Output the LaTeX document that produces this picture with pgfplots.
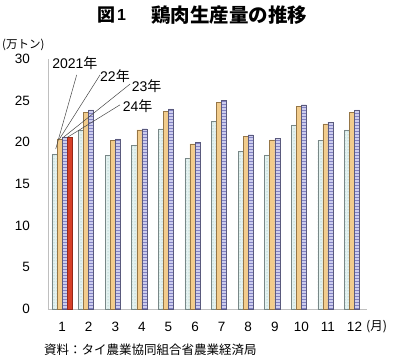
\documentclass[border=0pt]{standalone}
\usepackage{fontspec}
\setmainfont{Liberation Sans}
\newfontfamily\jp{Noto Sans CJK JP}
\usepackage{pgfplots}
\pgfplotsset{compat=1.18}
\usetikzlibrary{patterns}
\definecolor{f21}{RGB}{228,242,240}
\definecolor{p21}{RGB}{140,185,180}
\definecolor{d21}{RGB}{120,135,135}
\definecolor{f22}{RGB}{242,204,140}
\definecolor{d22}{RGB}{150,118,70}
\definecolor{f23}{RGB}{205,205,238}
\definecolor{p23}{RGB}{130,130,195}
\definecolor{d23}{RGB}{90,90,125}
\definecolor{f24}{RGB}{214,64,40}
\definecolor{d24}{RGB}{150,40,25}
\definecolor{ann}{RGB}{70,70,70}
\pgfplotstableread{
m y21 y22 y23
1 18.6 20.4 20.6
2 21.5 23.6 23.9
3 18.4 20.2 20.4
4 19.6 21.5 21.6
5 21.6 23.7 24.0
6 18.1 19.8 20.0
7 22.5 24.8 25.0
8 18.9 20.7 20.9
9 18.5 20.3 20.5
10 22.1 24.3 24.5
11 20.2 22.2 22.4
12 21.5 23.6 23.9
}\data
\pgfplotstableread{
m y24
1 20.6
}\dataB
\begin{document}
\begin{tikzpicture}[x=1pt,y=1pt]
\path[use as bounding box] (0,0) rectangle (400,363);
\node[anchor=west,inner sep=0] at (97,348) {\jp\bfseries\fontsize{18}{20}\selectfont 図};
\node[anchor=west,inner sep=0] at (117,348) {\bfseries\fontsize{16}{19}\selectfont 1};
\node[anchor=west,inner sep=0] at (151,348) {\jp\bfseries\fontsize{19.5}{21}\selectfont 鶏肉生産量の推移};
\node[anchor=west,inner sep=0] at (2,318) {\jp\fontsize{11.5}{13}\selectfont (万トン)};
\node[anchor=west,inner sep=0] at (366,36) {\jp\fontsize{12.5}{14}\selectfont (月)};
\node[anchor=west,inner sep=0] at (44,13) {\jp\fontsize{12.5}{14}\selectfont 資料：タイ農業協同組合省農業経済局};
\begin{axis}[
  at={(48pt,54pt)}, anchor=south west, scale only axis,
  width=319pt, height=250pt,
  xmin=0.47, xmax=12.47, ymin=0, ymax=30,
  xtick={1,...,12}, ytick={0,5,...,30},
  major tick length=0pt,
  axis x line*=bottom, axis y line*=left,
  axis line style={draw=black!25},
  /pgf/number format/assume math mode=true,
  tick label style={font=\fontsize{13.5}{15}\selectfont, inner sep=0pt},
  yticklabel style={xshift=-18pt},
  xticklabel style={yshift=-13pt},
  clip=false,
  bar width=0.19,
]
\addplot[ybar, bar shift=-0.285, fill=f21, draw=d21, line width=0.5pt, postaction={pattern=dots, pattern color=p21}] table[x=m,y=y21]{\data};
\addplot[ybar, bar shift=-0.095, fill=f22, draw=d22, line width=0.5pt] table[x=m,y=y22]{\data};
\addplot[ybar, bar shift=0.095, fill=f23, draw=d23, line width=0.5pt, postaction={pattern=horizontal lines, pattern color=p23}] table[x=m,y=y23]{\data};
\addplot[ybar, bar shift=0.285, fill=f24, draw=d24, line width=0.5pt] table[x=m,y=y24]{\dataB};
\draw[ann, line width=0.5pt] (axis cs:1.55,28.1) -- (axis cs:0.76,19.2);
\draw[ann, line width=0.5pt] (axis cs:2.43,28.1) -- (axis cs:0.9,20.4);
\draw[ann, line width=0.5pt] (axis cs:3.56,27.0) -- (axis cs:1.05,20.6);
\draw[ann, line width=0.5pt] (axis cs:3.18,24.5) -- (axis cs:1.2,20.6);
\node[inner sep=0, font=\fontsize{14}{16}\selectfont] at (axis cs:1.48,29.45) {2021{\jp 年}};
\node[inner sep=0, font=\fontsize{14}{16}\selectfont] at (axis cs:2.99,28.0) {22{\jp 年}};
\node[inner sep=0, font=\fontsize{14}{16}\selectfont] at (axis cs:4.18,26.8) {23{\jp 年}};
\node[inner sep=0, font=\fontsize{14}{16}\selectfont] at (axis cs:3.84,24.4) {24{\jp 年}};
\end{axis}
\end{tikzpicture}
\end{document}
